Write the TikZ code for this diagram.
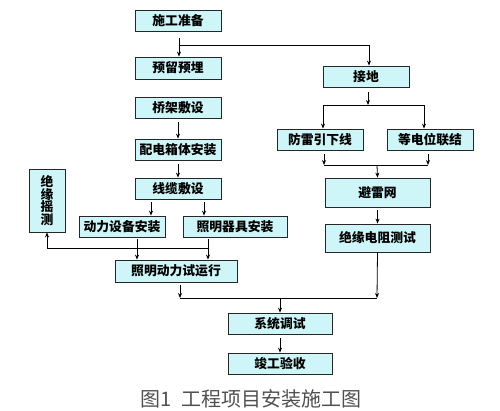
\documentclass[tikz,border=0pt]{standalone}
\usepackage{fontspec}
\setmainfont{Noto Sans CJK SC}
\usetikzlibrary{arrows.meta,calc}
\definecolor{boxc}{RGB}{206,246,248}
\definecolor{capc}{RGB}{80,80,80}
\tikzset{
  stepbox/.style={draw=black!85, line width=0.8pt, fill=boxc, inner sep=0pt,
    font=\fontsize{12.8}{12.8}\selectfont\bfseries, align=center},
  arr/.style={-{Stealth[length=5pt,width=4pt]}, line width=0.8pt},
  ln/.style={line width=0.8pt},
}
\begin{document}
\begin{tikzpicture}[x=1pt,y=-1pt]
\useasboundingbox (0,0) rectangle (500,410);
% left column
\node[stepbox, minimum width=86pt, minimum height=21pt] (sg) at (178,20.5) {施工准备};
\node[stepbox, minimum width=86pt, minimum height=22pt] (yl) at (178,68) {预留预埋};
\node[stepbox, minimum width=86pt, minimum height=21pt] (qj) at (178,107.5) {桥架敷设};
\node[stepbox, minimum width=86pt, minimum height=21pt] (pd) at (178,149.5) {配电箱体安装};
\node[stepbox, minimum width=86pt, minimum height=21pt] (xl) at (178,188.5) {线缆敷设};
\node[stepbox, minimum width=36pt, minimum height=63pt] (jy) at (47,200.5) {绝\\缘\\摇\\测};
\node[stepbox, minimum width=86pt, minimum height=21pt] (dl) at (122,226.5) {动力设备安装};
\node[stepbox, minimum width=104pt, minimum height=21pt] (zm) at (235,226.5) {照明器具安装};
\node[stepbox, minimum width=122pt, minimum height=22pt] (sy) at (176,271) {照明动力试运行};
% right column
\node[stepbox, minimum width=86pt, minimum height=21pt] (jd) at (366,76.5) {接地};
\node[stepbox, minimum width=86pt, minimum height=21pt] (fl) at (320,139.5) {防雷引下线};
\node[stepbox, minimum width=86pt, minimum height=21pt] (dd) at (430,139.5) {等电位联结};
\node[stepbox, minimum width=105pt, minimum height=29pt] (bl) at (377.5,192.5) {避雷网};
\node[stepbox, minimum width=105pt, minimum height=28pt] (jr) at (377.5,238) {绝缘电阻测试};
% bottom
\node[stepbox, minimum width=104pt, minimum height=21pt] (xt) at (280,323.5) {系统调试};
\node[stepbox, minimum width=104pt, minimum height=21pt] (jg) at (280,363.5) {竣工验收};
\node[font=\fontsize{20}{20}\selectfont, text=capc, inner sep=0pt] (cap) at (251,399) {图1\ \ 工程项目安装施工图};

% coordinates
\coordinate (a1) at (179,38);
\coordinate (a2) at (179,45);
\coordinate (a3) at (369,45);
% connectors top
\draw[arr] (a1) -- (yl.north -| a1);
\draw[ln] (a2) -- (a3);
\draw[arr] (a3) -- (a3 |- jd.north);
\draw[arr] ($(qj.south)+(0,4)$) -- (pd.north);
\draw[arr] ($(pd.south)+(0,4)$) -- (xl.north);
% cable to two installs
\coordinate (b1) at (151,202);
\coordinate (b2) at (204,202);
\draw[arr] (b1) -- (b1 |- dl.north);
\draw[arr] (b2) -- (b2 |- zm.north);
% installs to trial run
\coordinate (c1) at (137,239);
\coordinate (c2) at (208,239);
\coordinate (c3) at (208,248);
\coordinate (c4) at (47,248);
\draw[arr] (c1) -- (c1 |- sy.north);
\draw[arr] (c2) -- (c2 |- sy.north);
\draw[ln] (c3) -- (c4);
\draw[arr] (c4) -- (jy.south);
% trial run & test to system
\coordinate (d1) at (180,285);
\coordinate (d2) at (180,298);
\coordinate (d3) at (377,298);
\coordinate (d4) at (280,298);
\draw[arr] (d1) -- (d2);
\draw[arr] (jr.south) -- (d3);
\draw[ln] (d2) -- (d3);
\draw[arr] (d4) -- (xt.north);
\draw[arr] ($(xt.south)+(0,4)$) -- (jg.north);
% grounding branch
\coordinate (e1) at (368,92);
\coordinate (e2) at (368,105);
\coordinate (e3) at (323,105);
\coordinate (e4) at (424,105);
\draw[arr] (e1) -- (e2);
\draw[ln] (e3) -- (e4);
\draw[arr] (e3) -- (e3 |- fl.north);
\draw[arr] (e4) -- (e4 |- dd.north);
\coordinate (f1) at (324,154);
\coordinate (f2) at (428,154);
\coordinate (f3) at (324,165);
\coordinate (f4) at (428,165);
\coordinate (f5) at (377,165);
\draw[arr] (f1) -- (f3);
\draw[arr] (f2) -- (f4);
\draw[ln] (f3) -- (f4);
\draw[arr] (f5) -- (bl.north);
\draw[arr] ($(bl.south)+(0,3)$) -- (jr.north);
\end{tikzpicture}
\end{document}
